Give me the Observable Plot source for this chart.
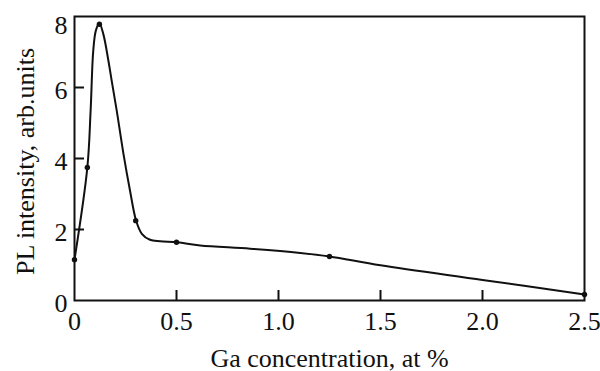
<!DOCTYPE html>
<html>
<head>
<meta charset="utf-8">
<script src="https://cdn.jsdelivr.net/npm/d3@7"></script>
<script src="https://cdn.jsdelivr.net/npm/@observablehq/plot@0.6"></script>
<style>
  html, body { margin: 0; padding: 0; background: #fff; }
  #chart svg { display: block; }
</style>
</head>
<body>
<div id="chart"></div>
<script>
// Measured points (Ga concentration, at %  ->  PL intensity, arb. units)
const pointX = [0, 0.063, 0.122, 0.30, 0.5, 1.25, 2.5];
const pointY = [1.15, 3.75, 7.78, 2.25, 1.64, 1.24, 0.17];

// Hand-drawn guide curve
const curveX = [0, 0.063, 0.079, 0.092, 0.105, 0.122, 0.141, 0.166, 0.182, 0.207, 0.240, 0.272, 0.302, 0.330, 0.370, 0.420, 0.504, 0.616, 0.861, 1.107, 1.25, 1.50, 2.00, 2.5];
const curveY = [1.15, 3.75, 5.35, 7.04, 7.61, 7.80, 7.51, 6.76, 6.20, 5.35, 4.13, 3.10, 2.25, 1.88, 1.71, 1.67, 1.64, 1.55, 1.46, 1.34, 1.24, 0.99, 0.58, 0.17];

const xTicks = [0, 0.5, 1.0, 1.5, 2.0, 2.5];
const xTickLabels = ["0", "0.5", "1.0", "1.5", "2.0", "2.5"];
const yTicks = [0, 2, 4, 6, 8];
const yTickLabels = ["0", "2", "4", "6", "8"];
const xTitle = "Ga concentration, at %";
const yTitle = "PL intensity, arb.units";

const points = pointX.map((x, i) => ({x, y: pointY[i]}));
const curve = curveX.map((x, i) => ({x, y: curveY[i]}));

const font = "'Liberation Serif', 'Times New Roman', serif";

const W = 600, H = 371;
const M = {left: 74, right: 16, top: 16, bottom: 71};
const tickLen = 10;

const chart = Plot.plot({
  width: W,
  height: H,
  marginLeft: M.left,
  marginRight: M.right,
  marginTop: M.top,
  marginBottom: M.bottom,
  style: {fontFamily: font, color: "#111", background: "#fff"},
  x: {domain: [0, 2.5]},
  y: {domain: [0, 8]},
  marks: [
    // inward tick marks: rules spanning the frame, inset to a short length
    Plot.ruleX(xTicks.slice(1, -1), {x: d => d, insetTop: H - M.top - M.bottom - tickLen,
      stroke: "#111", strokeWidth: 2}),
    Plot.ruleY(yTicks.slice(1, -1), {y: d => d, insetRight: W - M.left - M.right - tickLen,
      stroke: "#111", strokeWidth: 2}),
    // tick labels
    Plot.axisX(xTicks, {anchor: "bottom", tickSize: 0, tickPadding: 11, fontSize: 26,
      tickFormat: (d) => xTickLabels[xTicks.indexOf(d)], label: null}),
    Plot.axisY(yTicks.slice(0, -1), {anchor: "left", tickSize: 0, tickPadding: 7, fontSize: 26, dy: 3,
      tickFormat: (d) => yTickLabels[yTicks.indexOf(d)], label: null}),
    Plot.axisY(yTicks.slice(-1), {anchor: "left", tickSize: 0, tickPadding: 7, fontSize: 26, dy: 9,
      tickFormat: (d) => yTickLabels[yTicks.indexOf(d)], label: null}),
    // axis titles
    Plot.text([xTitle], {frameAnchor: "bottom", lineAnchor: "bottom", textAnchor: "middle", dy: 66, fontSize: 26, text: d => d}),
    Plot.text([yTitle], {frameAnchor: "left", rotate: -90, textAnchor: "middle", lineAnchor: "middle", dx: -49, dy: 3, fontSize: 26, text: d => d}),
    // data
    Plot.line(curve, {x: "x", y: "y", curve: "catmull-rom", stroke: "#111", strokeWidth: 2}),
    Plot.dot(points, {x: "x", y: "y", r: 2.7, fill: "#111", stroke: "none"}),
    Plot.frame({stroke: "#111", strokeWidth: 2})
  ]
});

document.getElementById("chart").appendChild(chart);
</script>
</body>
</html>
